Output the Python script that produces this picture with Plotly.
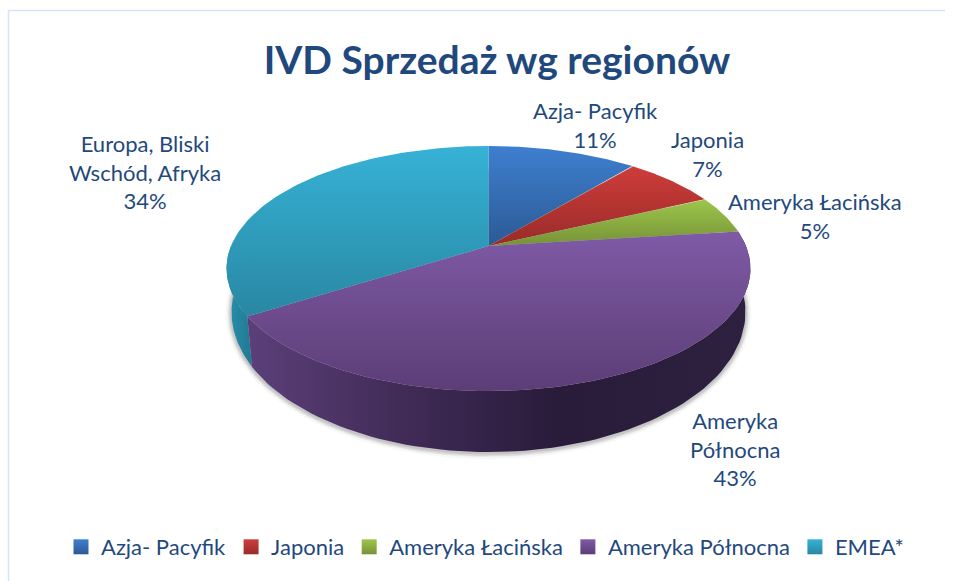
import numpy as np
import plotly.graph_objects as go

# --- data ---
categories = ["Azja- Pacyfik", "Japonia", "Ameryka Łacińska", "Ameryka Północna", "EMEA*"]
values = [11, 7, 5, 43, 34]
slice_labels = ["Azja- Pacyfik<br>11%", "Japonia<br>7%", "Ameryka Łacińska<br>5%",
                "Ameryka<br>Północna<br>43%", "Europa, Bliski<br>Wschód, Afryka<br>34%"]
title_text = "IVD Sprzedaż wg regionów"

# --- style ---
top_light = ["#3F7FD0", "#CE3D3A", "#9DC64C", "#7F5AA6", "#36B2D6"]
top_dark = ["#2B5A94", "#992B29", "#769236", "#5C3D76", "#2987A3"]
side_scale = {3: [[0, "#5C3F79"], [0.3, "#412C58"], [0.62, "#291B3A"], [1, "#2E2140"]],
              4: [[0, "#2A8FAB"], [1, "#1F7A93"]]}
label_xy = [(595, 125), (707, 154), (815, 216), (735, 449), (145, 172)]
TEXT = "#1F497D"
FONT = "Lato"

# perspective ellipse: top face, then the rim of the bottom face
CX, K = 488.5, -0.1837
AY, A, B = 246.0, 118.4, 257.5
AY2, A2, B2 = 286.3, 135.3, 252.6


def project(pct, ay=AY, a=A, b=B):
    t = np.radians(np.asarray(pct, dtype=float) * 3.6)
    u, v = np.sin(t), -np.cos(t)
    d = 1 + K * v
    return CX + b * u / d, ay + a * v / d


def arc(p0, p1, n=90):
    return np.linspace(p0, p1, n)


fig = go.Figure()

# soft shadow under the pie
full = arc(0, 100, 240)
for grow, alpha in [(6, 0.03), (4, 0.05), (3, 0.07), (1.5, 0.09)]:
    sx, sy = project(full, AY2, A2, B2)
    fig.add_trace(go.Scatter(
        x=CX + (sx - CX) * (1 + grow / 257), y=(sy - 312) * (1 + grow / 140) + 312 + 1,
        mode="lines", line=dict(width=0), fill="toself",
        fillcolor=f"rgba(0,0,0,{alpha})", hoverinfo="skip", showlegend=False))

edges = np.concatenate([[0], np.cumsum(values)])

# side walls
for i in [4, 3]:
    p0, p1 = edges[i], edges[i + 1]
    if i == 3:
        pct = arc(p0, p1)
    else:
        pct = arc(p0, 75)
    tx, ty = project(pct)
    bx, by = project(pct, AY2, A2, B2)
    fig.add_trace(go.Scatter(
        x=np.r_[tx, bx[::-1], tx[0]], y=np.r_[ty, by[::-1], ty[0]],
        mode="lines", line=dict(width=0), fill="toself",
        fillgradient=dict(type="horizontal", colorscale=side_scale[i]),
        hoverinfo="skip", showlegend=False))

# top faces
for i, name in enumerate(categories):
    ax, ay = project(arc(edges[i], edges[i + 1]))
    xs = np.r_[CX, ax, CX]
    ys = np.r_[AY, ay, AY]
    fig.add_trace(go.Scatter(
        x=xs, y=ys, mode="lines", line=dict(width=0), fill="toself",
        fillgradient=dict(type="vertical",
                          colorscale=[[0, top_light[i]], [1, top_dark[i]]],
                          start=float(ys.min()), stop=float(ys.max())),
        name=name, hovertemplate=f"{name}: {values[i]}%<extra></extra>", showlegend=False))

# legend entries
for i, name in enumerate(categories):
    fig.add_trace(go.Scatter(
        x=[None], y=[None], mode="markers", name=name,
        marker=dict(symbol="square", size=15, color=top_light[i],
                    gradient=dict(type="vertical", color=top_dark[i]))))

for text, (x, y) in zip(slice_labels, label_xy):
    fig.add_annotation(x=x, y=y, text=text, showarrow=False, xanchor="center", yanchor="middle",
                       font=dict(family=FONT, size=22, color=TEXT))

fig.add_shape(type="line", xref="x", yref="y", x0=8, x1=945, y0=10.5, y1=10.5,
              line=dict(color="#D6E4F5", width=1.5), layer="below")
fig.add_shape(type="line", xref="x", yref="y", x0=8.5, x1=8.5, y0=10, y1=581,
              line=dict(color="#D6E4F5", width=1.5), layer="below")

fig.update_layout(
    width=957, height=581, autosize=False,
    margin=dict(l=0, r=0, t=0, b=0),
    paper_bgcolor="white", plot_bgcolor="white",
    title=dict(text=f"<b>{title_text}</b>", x=497 / 957, xanchor="center", xref="paper",
               y=1 - 60 / 581, yanchor="middle", yref="paper",
               font=dict(family=FONT, size=39, color=TEXT)),
    xaxis=dict(range=[0, 957], visible=False, fixedrange=True),
    yaxis=dict(range=[581, 0], visible=False, fixedrange=True),
    legend=dict(orientation="h", x=61 / 957, xanchor="left", y=1 - 547 / 581, yanchor="middle",
                font=dict(family=FONT, size=22, color=TEXT), bgcolor="rgba(0,0,0,0)",
                itemclick=False, itemdoubleclick=False),
    showlegend=True,
)

fig.write_html("out.html", config={"displayModeBar": False},
               post_script="document.body.style.margin='0';")
